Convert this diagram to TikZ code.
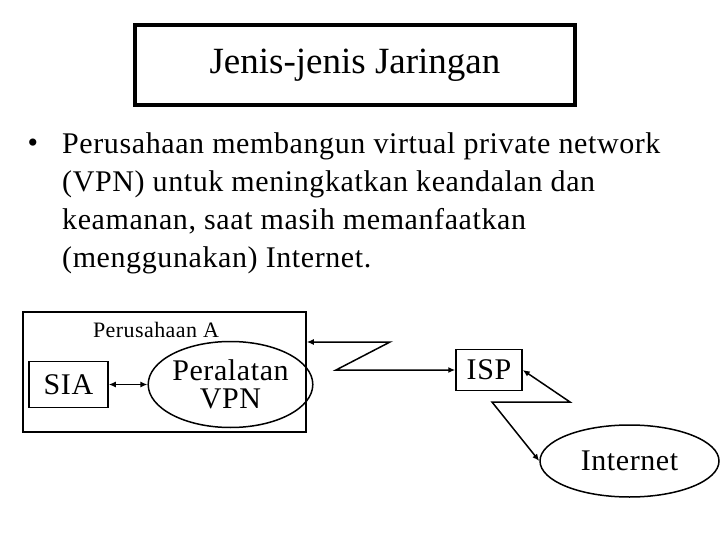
\documentclass[tikz,border=0pt]{standalone}
\usepackage{fontspec}
\setmainfont{Liberation Serif}
\newfontfamily\slidefont{Liberation Serif}[LetterSpace=2]
\usetikzlibrary{arrows.meta,shapes.geometric}

\begin{document}
\begin{tikzpicture}[x=1pt,y=-1pt,
    box/.style={draw,rectangle,line width=1.5pt,inner sep=0pt},
    oval/.style={draw,ellipse,line width=1.5pt,inner sep=0pt},
    link/.style={line width=1.5pt,{Latex[length=7pt,width=6pt]}-{Latex[length=7pt,width=6pt]}},
    big/.style={font=\slidefont\fontsize{30}{30}\selectfont}]
\useasboundingbox (0,0) rectangle (720,540);

\node[box,line width=4pt,minimum width=440pt,minimum height=80pt,font=\fontsize{37}{44}\selectfont] (title) at (355,65) {Jenis-jenis Jaringan};

\node[anchor=base,inner sep=0pt,font=\fontsize{30}{38}\selectfont] (bullet) at (33,153) {\textbullet};
\node[anchor=north west,inner sep=0pt,align=left,font=\slidefont\fontsize{30}{38}\selectfont] (body) at (62,132.5) {Perusahaan membangun virtual private network\\(VPN) untuk meningkatkan keandalan dan\\keamanan, saat masih memanfaatkan\\(menggunakan) Internet.};

\node[box,minimum width=283pt,minimum height=120pt] (compA) at (164.5,372) {};
\node[font=\slidefont\fontsize{22}{25}\selectfont] (compAlbl) at (156,330) {Perusahaan A};
\node[box,big,minimum width=79pt,minimum height=46pt] (sia) at (68.5,384.5) {SIA};
\node[oval,align=center,minimum width=149pt,minimum height=86pt,font=\slidefont\fontsize{30}{28}\selectfont] (vpn) at (230.5,384.5) {Peralatan\\VPN};
\node[box,big,minimum width=66pt,minimum height=41pt] (isp) at (489,370) {ISP};
\node[oval,big,minimum width=179pt,minimum height=72pt] (inet) at (629.5,461) {Internet};

\coordinate (z1) at (390,342);
\coordinate (z2) at (336,370);
\coordinate (z3) at (570,402);
\coordinate (z4) at (492,402);

\draw[link] (sia) -- (vpn);
\draw[link] (compA.east |- z1) -- (z1) -- (z2) -- (isp.west);
\draw[link] (isp.east) -- (z3) -- (z4) -- (inet.west);

\end{tikzpicture}
\end{document}
